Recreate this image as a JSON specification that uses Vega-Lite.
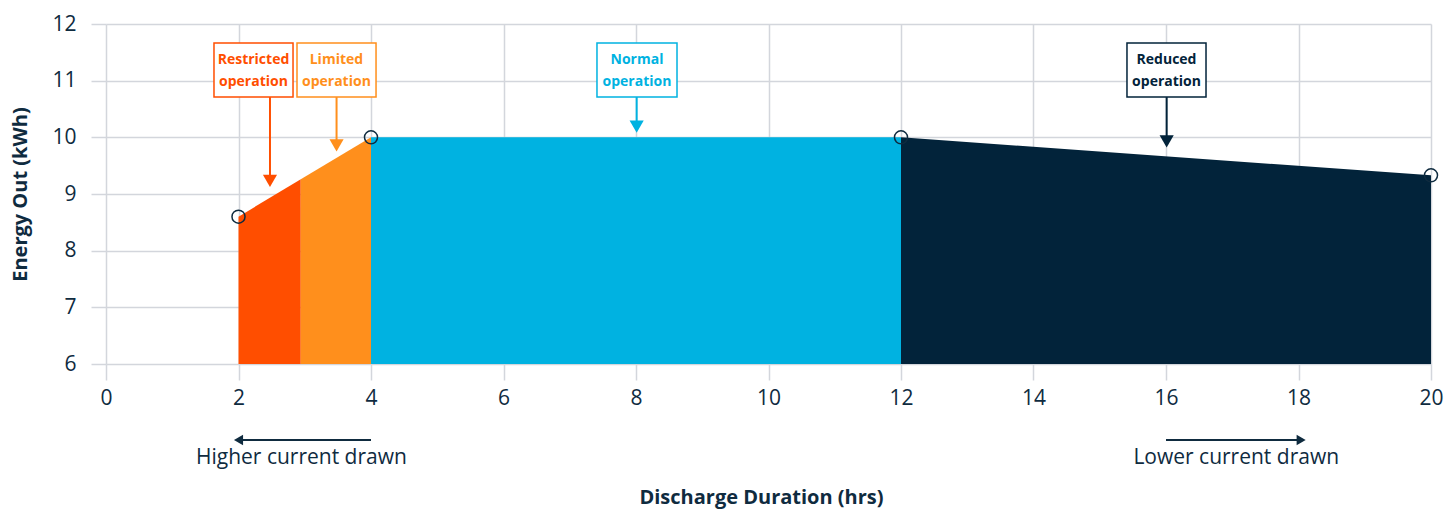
{
  "$schema": "https://vega.github.io/schema/vega-lite/v6.json",
  "width": 1325,
  "height": 340,
  "autosize": "none",
  "padding": {"left": 106, "top": 24, "right": 16, "bottom": 147},
  "background": "white",
  "config": {
    "font": "Open Sans",
    "view": {"stroke": null},
    "axis": {
      "domain": false,
      "gridColor": "#D3D6DC",
      "gridWidth": 1.5,
      "tickColor": "#D3D6DC",
      "tickWidth": 1.5,
      "labelColor": "#0F2B3F",
      "labelFontSize": 21,
      "labelFont": "Open Sans",
      "labelFlush": false,
      "format": "d",
      "titleColor": "#0F2B3F",
      "titleFont": "Open Sans",
      "titleFontSize": 20,
      "titleFontWeight": "bold"
    }
  },
  "datasets": {
    "zones": [
      {"zone": "Restricted", "hrs": 2, "kwh": 8.6},
      {"zone": "Restricted", "hrs": 2.94, "kwh": 9.26},
      {"zone": "Limited", "hrs": 2.94, "kwh": 9.26},
      {"zone": "Limited", "hrs": 4, "kwh": 10},
      {"zone": "Normal", "hrs": 4, "kwh": 10},
      {"zone": "Normal", "hrs": 12, "kwh": 10},
      {"zone": "Reduced", "hrs": 12, "kwh": 10},
      {"zone": "Reduced", "hrs": 20, "kwh": 9.33}
    ],
    "labels": [
      {"zone": "Restricted", "x1": 1.63, "x2": 2.823, "xc": 2.226, "xa": 2.475, "tip": 9.23, "line1": "Restricted", "line2": "operation"},
      {"zone": "Limited", "x1": 2.883, "x2": 4.076, "xc": 3.478, "xa": 3.48, "tip": 9.86, "line1": "Limited", "line2": "operation"},
      {"zone": "Normal", "x1": 7.411, "x2": 8.619, "xc": 8.015, "xa": 8.01, "tip": 10.19, "line1": "Normal", "line2": "operation"},
      {"zone": "Reduced", "x1": 15.411, "x2": 16.604, "xc": 16.008, "xa": 16.01, "tip": 9.93, "line1": "Reduced", "line2": "operation"}
    ],
    "markers": [
      {"hrs": 2, "kwh": 8.6},
      {"hrs": 4, "kwh": 10},
      {"hrs": 12, "kwh": 10},
      {"hrs": 20, "kwh": 9.33}
    ],
    "current": [
      {"label": "Higher current drawn", "from": 4, "to": 2.0, "xc": 2.95, "dir": "left"},
      {"label": "Lower current drawn", "from": 16, "to": 18.04, "xc": 17.06, "dir": "right"}
    ]
  },
  "layer": [
    {
      "data": {"name": "zones"},
      "mark": {"type": "area", "opacity": 1},
      "encoding": {
        "x": {
          "field": "hrs", "type": "quantitative",
          "scale": {"domain": [0, 20], "nice": false},
          "axis": {
            "values": [0, 2, 4, 6, 8, 10, 12, 14, 16, 18, 20],
            "tickSize": 16, "labelPadding": 7,
            "title": "Discharge Duration (hrs)",
            "titleX": 655, "titleY": 133, "titleBaseline": "middle"
          }
        },
        "y": {
          "field": "kwh", "type": "quantitative",
          "scale": {"domain": [6, 12], "nice": false, "zero": false},
          "axis": {
            "values": [6, 7, 8, 9, 10, 11, 12],
            "tickSize": 15, "labelPadding": 15,
            "title": "Energy Out (kWh)",
            "titleX": -86, "titleY": 170, "titleAngle": -90,
            "titleAlign": "center", "titleBaseline": "middle"
          }
        },
        "y2": {"datum": 6},
        "color": {
          "field": "zone", "type": "nominal",
          "scale": {
            "domain": ["Restricted", "Limited", "Normal", "Reduced"],
            "range": ["#FF4E00", "#FF8F1C", "#00B2E1", "#02233A"]
          },
          "legend": null
        }
      }
    },
    {
      "data": {"name": "labels"},
      "mark": {"type": "rule", "strokeWidth": 2},
      "encoding": {
        "x": {"field": "xa", "type": "quantitative"},
        "y": {"field": "tip", "type": "quantitative"},
        "y2": {"datum": 10.71},
        "color": {"field": "zone", "type": "nominal", "legend": null}
      }
    },
    {
      "data": {"name": "labels"},
      "mark": {"type": "point", "shape": "triangle-down", "filled": true, "size": 200, "opacity": 1},
      "encoding": {
        "x": {"field": "xa", "type": "quantitative"},
        "y": {"field": "tip", "type": "quantitative"},
        "color": {"field": "zone", "type": "nominal", "legend": null}
      }
    },
    {
      "data": {"name": "labels"},
      "mark": {"type": "rect", "fill": "white", "strokeWidth": 1.5},
      "encoding": {
        "x": {"field": "x1", "type": "quantitative"},
        "x2": {"field": "x2"},
        "y": {"datum": 11.664},
        "y2": {"datum": 10.711},
        "stroke": {
          "field": "zone", "type": "nominal",
          "scale": {
            "domain": ["Restricted", "Limited", "Normal", "Reduced"],
            "range": ["#FF4E00", "#FF8F1C", "#00B2E1", "#02233A"]
          },
          "legend": null
        }
      }
    },
    {
      "data": {"name": "labels"},
      "mark": {"type": "text", "fontSize": 14, "fontWeight": "bold", "align": "center", "baseline": "middle"},
      "encoding": {
        "x": {"field": "xc", "type": "quantitative"},
        "y": {"datum": 11.364},
        "text": {"field": "line1"},
        "color": {"field": "zone", "type": "nominal", "legend": null}
      }
    },
    {
      "data": {"name": "labels"},
      "mark": {"type": "text", "fontSize": 14, "fontWeight": "bold", "align": "center", "baseline": "middle"},
      "encoding": {
        "x": {"field": "xc", "type": "quantitative"},
        "y": {"datum": 10.98},
        "text": {"field": "line2"},
        "color": {"field": "zone", "type": "nominal", "legend": null}
      }
    },
    {
      "data": {"name": "markers"},
      "mark": {"type": "point", "shape": "circle", "filled": false, "size": 170, "stroke": "#0F2B3F", "strokeWidth": 1.5, "opacity": 1},
      "encoding": {
        "x": {"field": "hrs", "type": "quantitative"},
        "y": {"field": "kwh", "type": "quantitative"}
      }
    },
    {
      "data": {"name": "current"},
      "mark": {"type": "rule", "color": "#0F2B3F", "strokeWidth": 2},
      "encoding": {
        "x": {"field": "from", "type": "quantitative"},
        "x2": {"field": "to"},
        "y": {"datum": 4.66}
      }
    },
    {
      "data": {"name": "current"},
      "mark": {"type": "point", "filled": true, "size": 110, "color": "#0F2B3F", "opacity": 1},
      "encoding": {
        "x": {"field": "to", "type": "quantitative"},
        "y": {"datum": 4.66},
        "shape": {
          "field": "dir", "type": "nominal",
          "scale": {"domain": ["left", "right"], "range": ["triangle-left", "triangle-right"]},
          "legend": null
        }
      }
    },
    {
      "data": {"name": "current"},
      "mark": {"type": "text", "fontSize": 21, "color": "#0F2B3F", "align": "center", "baseline": "middle"},
      "encoding": {
        "x": {"field": "xc", "type": "quantitative"},
        "y": {"datum": 4.34},
        "text": {"field": "label"}
      }
    }
  ]
}
